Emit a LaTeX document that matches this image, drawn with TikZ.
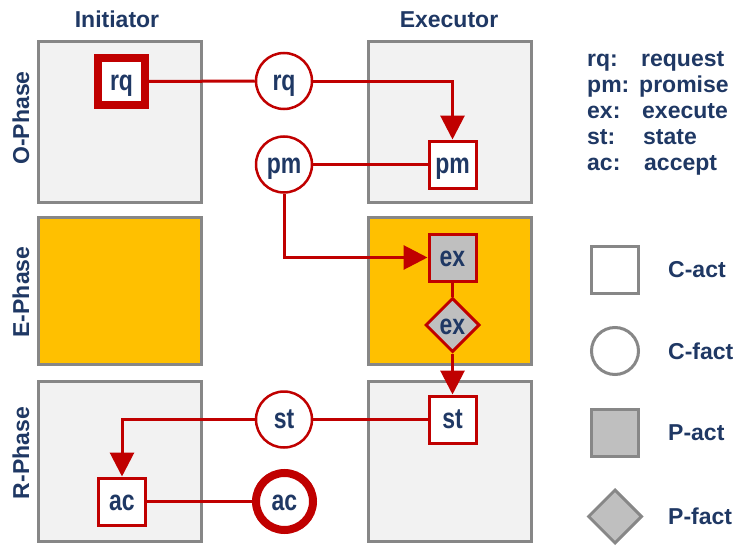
\documentclass[tikz,border=0pt]{standalone}
\usepackage{fontspec}
\usepackage{graphicx}
\setmainfont{Liberation Sans}
\usetikzlibrary{arrows.meta,shapes.geometric}
\definecolor{dred}{HTML}{C00000}
\definecolor{navy}{HTML}{1F3864}
\definecolor{bgray}{HTML}{878787}
\definecolor{lgray}{HTML}{F2F2F2}
\definecolor{amber}{HTML}{FFC000}
\definecolor{pgray}{HTML}{BFBFBF}
\newcommand{\talllbl}[1]{\scalebox{1}[1.25]{#1}}
\begin{document}
\begin{tikzpicture}[x=1pt,y=-1pt,
  font=\fontsize{23}{26}\selectfont\bfseries, text=navy,
  phasebox/.style={draw=bgray, line width=3pt, fill=lgray, minimum width=163pt, inner sep=0pt},
  lbl/.style={inner sep=0pt, text height=18pt, text depth=0pt},
  cact/.style={lbl, draw=dred, line width=3pt, fill=white, rectangle, minimum size=47pt},
  cfact/.style={lbl, draw=dred, line width=2.5pt, fill=white, circle, minimum size=56pt},
  pact/.style={cact, fill=pgray},
  pfact/.style={lbl, draw=dred, line width=3pt, fill=pgray, diamond, minimum size=54pt},
  conn/.style={draw=dred, line width=3pt},
  arr/.style={conn, -{Triangle[length=24pt,width=24pt]}},
  legbox/.style={draw=bgray, line width=3pt, minimum size=47pt, inner sep=0pt},
  leglab/.style={anchor=west, inner sep=0pt, text height=16.5pt, text depth=0pt},
  keytxt/.style={anchor=base west, inner sep=0pt}
]
\useasboundingbox (0,0) rectangle (740,546);

% phase boxes
\node[phasebox, minimum height=161pt] (iO) at (120,122) {};
\node[phasebox, minimum height=147pt, fill=amber] (iE) at (120,290.5) {};
\node[phasebox, minimum height=160pt] (iR) at (120,461.5) {};
\node[phasebox, minimum height=161pt] (eO) at (450,122) {};
\node[phasebox, minimum height=147pt, fill=amber] (eE) at (450,291) {};
\node[phasebox, minimum height=160pt] (eR) at (450,461.5) {};

% headers
\node (hI) at (117,19) {Initiator};
\node (hE) at (449,20) {Executor};
\node[rotate=90] (pO) at (21,118) {O-Phase};
\node[rotate=90] (pE) at (21,292) {E-Phase};
\node[rotate=90] (pR) at (21,453) {R-Phase};

% nodes
\node[cact, line width=8pt] (rqs) at (121.5,81.5) {\talllbl{rq}};
\node[cfact] (rqc) at (284,81) {\talllbl{rq}};
\node[cact] (pms) at (452.5,164.5) {\talllbl{pm}};
\node[cfact] (pmc) at (284,164.5) {\talllbl{pm}};
\node[pact] (exs) at (452.5,257.5) {\talllbl{ex}};
\node[pfact] (exd) at (452.5,325) {\talllbl{ex}};
\node[cact] (sts) at (452.5,419.5) {\talllbl{st}};
\node[cfact] (stc) at (284,419.5) {\talllbl{st}};
\node[cact] (acs) at (122,501.5) {\talllbl{ac}};
\node[cfact, line width=8pt, minimum size=57pt] (acc) at (284.5,501.5) {\talllbl{ac}};

% connectors
\draw[conn] (rqs.east) -- (rqc.west);
\draw[arr] (rqc.east) -| (pms.north);
\draw[conn] (pms.west) -- (pmc.east);
\draw[arr] (pmc.south) |- (exs.west);
\draw[conn] (exs.south) -- (exd.north);
\draw[arr] (exd.south) -- (sts.north);
\draw[conn] (sts.west) -- (stc.east);
\draw[arr] (stc.west) -| (acs.north);
\draw[conn] (acs.east) -- (acc.west);

% key
\node[keytxt] (k1a) at (587,66) {rq:};
\node[keytxt] (k1b) at (641,66) {request};
\node[keytxt] (k2a) at (587,92) {pm:};
\node[keytxt] (k2b) at (639,92) {promise};
\node[keytxt] (k3a) at (587,118) {ex:};
\node[keytxt] (k3b) at (642,118) {execute};
\node[keytxt] (k4a) at (587,144) {st:};
\node[keytxt] (k4b) at (643,144) {state};
\node[keytxt] (k5a) at (587,170) {ac:};
\node[keytxt] (k5b) at (644,170) {accept};

% legend
\node[legbox, rectangle, fill=white] (l1) at (615,269.5) {};
\node[leglab] (l1t) at (668,269.5) {C-act};
\node[legbox, circle, fill=white] (l2) at (615,351) {};
\node[leglab] (l2t) at (668,351) {C-fact};
\node[legbox, rectangle, fill=pgray] (l3) at (615,432.5) {};
\node[leglab] (l3t) at (668,432.5) {P-act};
\node[legbox, diamond, fill=pgray, minimum size=54pt] (l4) at (615,516.5) {};
\node[leglab] (l4t) at (668,516.5) {P-fact};
\end{tikzpicture}
\end{document}
